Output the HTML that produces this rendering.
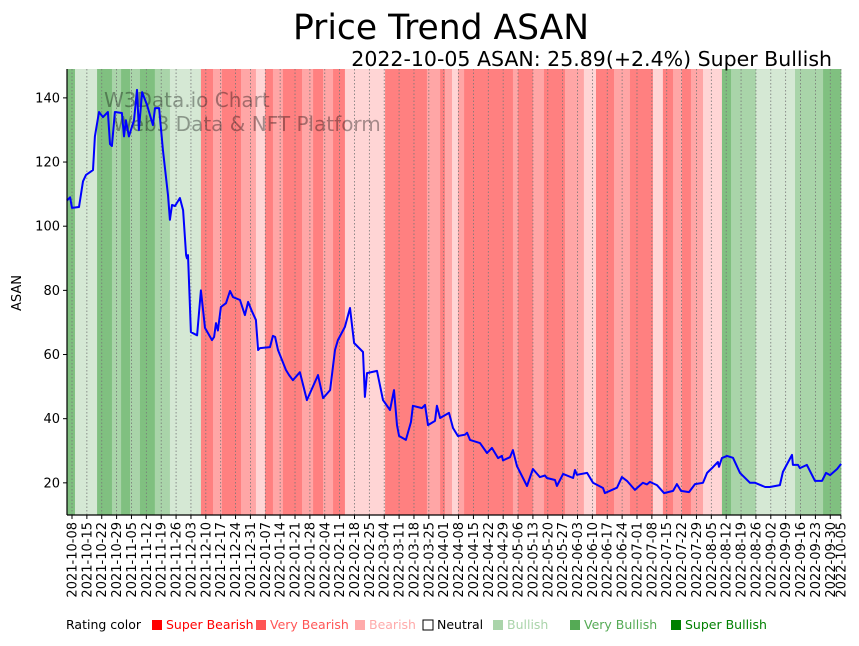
<!DOCTYPE html>
<html><head><meta charset="utf-8"><style>
body{margin:0;background:#fff;}
svg text{font-family:"DejaVu Sans","Liberation Sans",sans-serif;}
</style></head><body>
<svg id="chart" width="859" height="641" xmlns="http://www.w3.org/2000/svg">
<rect width="859" height="641" fill="#fff"/>
<g id="bands"></g>
<g id="grid"></g>
<g fill="#000" opacity="0.35" font-size="20">
<text x="104" y="107">W3Data.io Chart</text>
<text x="113" y="131">Web3 Data &amp; NFT Platform</text>
</g>
<path id="line" fill="none" stroke="#0000ff" stroke-width="2" stroke-linejoin="round"/>
<g id="axes"></g>
<text x="441" y="39" font-size="34.5" text-anchor="middle">Price Trend ASAN</text>
<text x="832" y="66" font-size="20.5" text-anchor="end">2022-10-05 ASAN: 25.89(+2.4%) Super Bullish</text>
<text transform="translate(21,293) rotate(-90)" font-size="13" text-anchor="middle">ASAN</text>
<g id="legend" font-size="12.5"></g>
</svg>
<script>
const bandStarts=[-2.4,1.4,11.8,18.8,23.1,27.3,32,39,42.4,46.1,60.7,66.4,70.6,79.6,86.6,90.9,94.6,99.3,108.3,113.5,118.2,122.9,128.5,147.4,167.1,173.3,175.6,178.9,181.7,184.6,207.6,210,217,222.2,232.1,241,246.7,255.2,262.7,273.5,278.2,283,287.2,291.4,297.1,306,310.3,322,340.4,353.6];
const bandLevels=[3,1,3,2,3,2,3,2,2,1,-3,-2,-3,-2,-1,-3,-2,-3,-2,-3,-2,-3,-1,-3,-2,-3,-2,-1,-2,-3,-2,-3,-2,-3,-2,-1,-3,-2,-3,-1,-3,-2,-3,-2,-1,3,2,1,2,3];
const priceDays=[-2.4,-0.9,0,3.3,5.2,6.6,9.9,10.8,12.7,14.6,16.9,17.9,18.8,20.2,23.5,24.5,25.4,26.8,29.2,30.6,31.5,33,35.3,38.1,39.1,41,42.8,45.2,46.1,47.1,48.5,50.8,52.3,53.7,54.1,54.6,56,58.9,60.7,62.6,65.9,66.9,67.8,68.7,70.1,72.5,74.4,75.8,79.1,81.4,82.9,84.7,86.6,87.6,88.5,93.2,94.6,95.6,97,100.7,102.2,104,107.3,110.6,115.8,118.2,121.5,123.8,125.2,128.5,130.9,132.8,137,137.9,138.9,143.6,146.4,149.7,151.6,153,154,157.2,159.6,160.5,164.8,166.2,167.6,170.9,171.8,173.3,177.5,179.4,181.7,185,186,187.4,192.1,195.4,197.7,200.6,202.4,202.9,206.2,207.6,209.5,214.2,217,220.3,222.7,223.6,227.4,228.3,231.2,235.9,236.8,237.7,242.5,245.3,250,250.9,256.6,258.9,261.3,265,268.8,270.7,272.1,275.4,278.7,283,284.8,286.7,290.5,293.3,297.1,299,301.8,304.1,304.6,306,308.4,311.2,314.5,319.2,321.6,326.3,328.6,333.3,334.7,339,339.4,341.8,342.7,346,349.8,353.1,355,356.9,360.2,362.1];
const priceValues=[108,109,105.7,106,114,116,117.5,128,135.6,134,135.6,125.6,125,135.6,135.3,128,133,128,133,142.5,130,141.8,137.8,131.5,136.8,136.8,123.8,109.7,102,106.6,106.3,108.8,105,91,90,91,67,66,80,68.3,64.5,65.5,69.8,67.5,74.8,76,79.8,77.9,77,72.3,76.4,73.5,70.8,61.4,62,62.3,65.8,65.5,61.4,55.2,53.6,52,54.5,45.8,53.6,46.4,48.9,61.4,64.5,68.6,74.5,63.6,60.8,46.8,54.2,54.9,45.8,42.7,48.9,38,34.6,33.4,39,44,43.3,44.3,38,39.3,44,40.2,41.8,37.1,34.6,35,35.6,33.4,32.4,29.3,30.9,27.7,28.4,27,28,30.2,25.2,19,24.3,21.8,22.3,21.5,20.9,19,22.8,21.5,24,22.5,23.1,20,18.4,16.8,18.5,21.8,20.6,17.8,20,19.5,20.3,19.3,16.8,17.5,19.6,17.5,17.1,19.6,20,23.1,24.9,26.5,25,27.7,28.4,27.8,23.1,20,20,18.7,18.7,19.3,23.4,28.7,25.6,25.6,24.6,25.6,20.6,20.6,23.1,22.4,24.3,25.9];
const yTicks=[20,40,60,80,100,120,140];
const levelColors={"3":"#80c080","2":"#a9d4a9","1":"#d5e8d4","-1":"#ffd5d5","-2":"#ffa6a6","-3":"#ff8080"};
const NS="http://www.w3.org/2000/svg";
const X0=72,DX=2.124,L=67,R=841,T=69,B=515;
const xs=d=>X0+d*DX;
const ys=v=>547-v*3.208;
function mk(tag,attrs,parent){const e=document.createElementNS(NS,tag);for(const k in attrs)e.setAttribute(k,attrs[k]);parent.appendChild(e);return e;}
const bands=document.getElementById('bands');
for(let i=0;i<bandStarts.length;i++){
  const x1=xs(bandStarts[i]);const x2=i+1<bandStarts.length?xs(bandStarts[i+1]):R;
  const r=mk('rect',{x:x1,y:T,width:Math.max(0,x2-x1)+0.3,height:B-T,fill:levelColors[bandLevels[i]]},bands);
  
  
}
const start=new Date(Date.UTC(2021,9,8));
const tickDays=[];for(let d=0;d<=357;d+=7)tickDays.push(d);tickDays.push(362);
const grid=document.getElementById('grid'),axes=document.getElementById('axes');
tickDays.forEach(d=>{
  const x=xs(d);
  const g=mk('line',{x1:x,x2:x,y1:T,y2:B,stroke:'#777',"stroke-width":0.8,"stroke-dasharray":"1.5,2"},grid);
  
  
  mk('line',{x1:x,x2:x,y1:B,y2:B+4,stroke:'#000',"stroke-width":1},axes);
  const dt=new Date(start.getTime()+d*86400000);
  const s=dt.toISOString().slice(0,10);
  const t=mk('text',{transform:`translate(${x+4.5},${B+7}) rotate(-90)`,"font-size":13,"text-anchor":"end"},axes);
  t.textContent=s;
  
  
});
yTicks.forEach(v=>{
  const y=ys(v);
  mk('line',{x1:L-4,x2:L,y1:y,y2:y,stroke:'#000',"stroke-width":1},axes);
  const t=mk('text',{x:L-7,y:y+4.5,"font-size":13,"text-anchor":"end"},axes);
  t.textContent=v;
  
  
});
mk('line',{x1:L,x2:L,y1:T,y2:B,stroke:'#000',"stroke-width":1.2},axes);
mk('line',{x1:L,x2:R,y1:B,y2:B,stroke:'#000',"stroke-width":1.2},axes);
document.getElementById('line').setAttribute('d',priceDays.map((d,i)=>(i?'L':'M')+xs(d).toFixed(1)+','+ys(priceValues[i]).toFixed(1)).join(''));
const lg=document.getElementById('legend');
const lt=mk('text',{x:66,y:629,fill:'#000'},lg);lt.textContent='Rating color';


const legNames=['Super Bearish','Very Bearish','Bearish','Neutral','Bullish','Very Bullish','Super Bullish'];
const legColors=['#ff0000','#ff5555','#ffaaaa','#ffffff','#aad4aa','#55aa55','#008000'];
const legX=[152,256,355,423,493,570,671];
legNames.forEach((n,i)=>{
  const r=mk('rect',{x:legX[i],y:620,width:10,height:10,fill:legColors[i],stroke:i==3?'#000':'none'},lg);
  
  
  const t=mk('text',{x:legX[i]+14,y:629,fill:i==3?'#000':legColors[i]},lg);t.textContent=n;
  
  
});
</script>
</body></html>
